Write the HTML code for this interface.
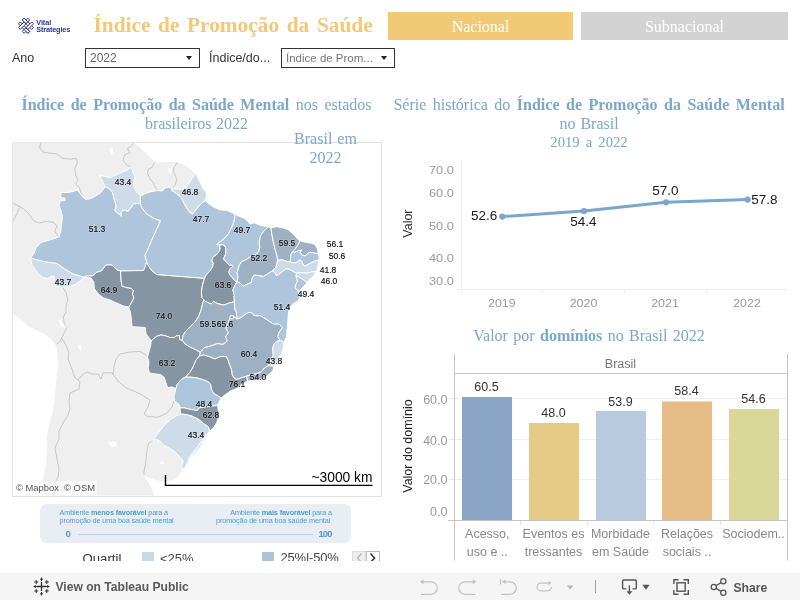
<!DOCTYPE html>
<html><head><meta charset="utf-8">
<style>
html,body{margin:0;padding:0;background:#fff;}
body{width:800px;height:600px;position:relative;overflow:hidden;font-family:"Liberation Sans",sans-serif;}
.abs{position:absolute;white-space:nowrap;}
.serif{font-family:"Liberation Serif",serif;}
.mh{font:8.5px "Liberation Sans",sans-serif;fill:none;text-anchor:middle;stroke:rgba(255,255,255,.22);stroke-width:1.6px;stroke-linejoin:round;}
.ml{font:8.5px "Liberation Sans",sans-serif;fill:#111;text-anchor:middle;stroke:#111;stroke-width:.17px;}
.t16{font-family:"Liberation Serif",serif;font-size:16px;color:#7BA7CC;line-height:18.5px;text-align:center;word-spacing:2.5px;}
.dd{position:absolute;box-sizing:border-box;border:1px solid #333;background:#fff;height:20px;top:48px;font-size:12px;color:#666;line-height:18px;padding-left:4px;}
.dd i{position:absolute;right:7px;top:7px;width:0;height:0;border-left:3.5px solid transparent;border-right:3.5px solid transparent;border-top:4.5px solid #222;}
.ax{font-size:12px;color:#8a8a8a;}
.dl{font-size:12.5px;color:#222;}
#wrap{position:absolute;left:0;top:0;width:800px;height:600px;will-change:transform;}
</style></head><body><div id="wrap">

<!-- logo -->
<svg class="abs" style="left:0;top:0" width="100" height="45" viewBox="0 0 100 45">
 <g transform="translate(26,25.7) rotate(45) scale(0.88)" stroke="#2B3593" stroke-width="1.05" fill="#fff">
  <rect x="-7.6" y="-4.6" width="15.2" height="3"/>
  <rect x="-7.6" y="1.6" width="15.2" height="3"/>
  <rect x="-4.6" y="-7.6" width="3" height="15.2"/>
  <rect x="1.6" y="-7.6" width="3" height="15.2"/>
  <rect x="-7.6" y="-4.6" width="6" height="3"/>
  <rect x="1.6" y="1.6" width="6" height="3"/>
  <path d="M-4.6 -1.6 H-1.6 M1.6 1.6 H4.6" stroke="#2B3593"/>
 </g>
 <text x="36.3" y="25.3" style="font:bold 7.3px 'Liberation Sans',sans-serif;fill:#2B3593;letter-spacing:-0.1px">Vital</text>
 <text x="36.3" y="32.2" style="font:bold 7.3px 'Liberation Sans',sans-serif;fill:#2B3593;letter-spacing:-0.15px">Strategies</text>
</svg>

<!-- title -->
<div class="abs serif" style="left:93.5px;top:13px;font-size:21.33px;font-weight:bold;color:#F3C878;line-height:25px;word-spacing:2.35px;">Índice de Promoção da Saúde</div>

<!-- buttons -->
<div class="abs serif" style="left:388px;top:12px;width:185px;height:28px;background:#F2C976;color:#fff;font-size:16px;line-height:29px;text-align:center;">Nacional</div>
<div class="abs serif" style="left:581px;top:12px;width:207px;height:28px;background:#D3D3D3;color:#fff;font-size:16px;line-height:29px;text-align:center;">Subnacional</div>

<!-- filters -->
<div class="abs" style="left:12px;top:50px;font-size:12.5px;color:#333;line-height:16px;">Ano</div>
<div class="dd" style="left:85px;width:115px;">2022<i></i></div>
<div class="abs" style="left:209px;top:50px;font-size:12.5px;color:#333;line-height:16px;">Índice/do...</div>
<div class="dd" style="left:281px;width:114px;color:#777;font-size:11.5px;">Índice de Prom...<i></i></div>

<!-- left title -->
<div class="abs t16" style="left:12px;top:96px;width:369px;"><b>Índice de Promoção da Saúde Mental</b> nos estados</div>
<div class="abs t16" style="left:12px;top:114.8px;width:369px;word-spacing:0.5px;">brasileiros 2022</div>

<!-- map frame -->
<div class="abs" style="left:12px;top:142px;width:368px;height:353px;border:1px solid #E1E1E1;"></div>
<svg id="map" width="800" height="600" viewBox="0 0 800 600" style="position:absolute;left:0;top:0">
<defs><clipPath id="mc"><rect x="12.5" y="142.5" width="368" height="353"/></clipPath></defs>
<g clip-path="url(#mc)">
<polygon points="12.0,142.0 133.8,142.0 133.8,143.0 138.8,146.2 143.8,151.2 148.8,156.2 153.1,160.6 158.8,162.2 166.2,161.9 175.0,161.9 181.2,163.8 187.5,166.9 192.5,171.2 196.2,173.8 198.0,185.0 200.0,200.0 230.0,220.0 260.0,240.0 280.0,280.0 270.0,340.0 220.0,390.0 200.0,430.0 185.0,465.0 182.5,470.0 180.8,473.5 177.2,477.0 172.0,480.5 165.0,481.4 156.2,480.5 149.2,477.9 144.0,475.0 148.0,482.0 152.0,489.0 154.0,496.0 43.0,496.0 43.0,480.0 46.0,465.0 47.0,451.0 47.0,437.0 49.0,425.0 53.0,411.0 55.0,395.0 56.0,381.0 58.0,365.0 57.0,349.0 55.5,345.0 52.0,339.8 45.0,334.5 36.2,330.1 27.5,325.8 20.5,319.6 13.5,314.4 12.0,313.5" fill="#EFEFEF"/>
<polygon points="110.0,148.0 113.0,148.5 113.2,152.0 111.5,155.0 109.8,153.0" fill="#fff"/>
<polygon points="168.2,168.2 171.8,168.2 171.8,172.4 168.2,172.4" fill="#fff"/>
<polygon points="58.5,320.0 61.0,319.6 62.5,323.0 66.0,325.0 67.5,328.0 64.0,327.5 60.0,325.5" fill="#fff"/>
<polygon points="108.0,442.5 116.0,441.5 117.0,446.0 112.0,447.5" fill="#fff"/>
<polygon points="78.0,345.0 80.5,345.0 82.0,350.0 79.5,349.5" fill="#fff"/>
<polygon points="160.0,462.0 163.0,461.5 164.0,463.5 161.0,464.5" fill="#fff"/>
<polyline points="40.6,142.6 39.8,147.9 43.2,152.2 50.2,153.1 57.2,154.0 62.5,158.4 69.5,159.2 76.5,158.4 77.4,162.8 74.8,168.0 75.6,175.0 78.2,180.2 75.6,183.8 79.1,187.2 80.9,192.5 82.5,197.0" fill="none" stroke="#B8B8B8" stroke-width="0.75"/>
<polyline points="133.8,143.0 131.2,146.2 127.5,148.8 130.0,152.5 124.6,154.9 122.9,160.1 126.4,164.5 131.0,167.0" fill="none" stroke="#B8B8B8" stroke-width="0.75"/>
<polyline points="153.8,163.1 152.5,166.9 148.1,169.4 147.5,173.8 150.0,178.8 153.1,182.5 155.6,187.5 157.5,190.6" fill="none" stroke="#B8B8B8" stroke-width="0.75"/>
<polyline points="177.5,162.2 174.4,166.9 173.1,171.2 175.6,176.2 176.9,180.0 175.0,185.0 173.1,188.1" fill="none" stroke="#B8B8B8" stroke-width="0.75"/>
<polyline points="12.6,203.0 17.9,205.6 24.0,209.1 29.2,214.4 33.6,220.5 38.9,223.1 45.9,221.4 52.9,222.2 57.2,225.8 54.6,231.0 58.1,236.2" fill="none" stroke="#B8B8B8" stroke-width="0.75"/>
<polyline points="12.6,221.4 17.0,213.5 19.6,207.4 17.9,205.6" fill="none" stroke="#B8B8B8" stroke-width="0.75"/>
<polyline points="62.5,287.2 66.0,292.5 67.8,299.5 66.0,306.5 66.0,311.8 63.4,317.0 64.2,324.0 66.9,327.5 64.2,332.8 61.6,338.0 59.9,341.5 56.4,344.1" fill="none" stroke="#B8B8B8" stroke-width="0.75"/>
<polyline points="61.6,338.0 63.5,341.0 66.0,345.0 69.0,353.0 68.0,359.0 72.0,369.0 75.0,378.0 78.0,380.0 80.0,382.0 79.0,389.0 70.0,393.0 69.0,401.0 70.0,409.0 68.0,415.0 63.0,423.0 59.0,431.0 59.0,439.0 55.0,448.0 57.0,459.0 59.0,469.0 58.0,477.0 56.0,481.0 54.0,496.0" fill="none" stroke="#B8B8B8" stroke-width="0.75"/>
<polyline points="78.0,380.0 82.0,375.0 87.0,372.0 92.0,374.0 98.0,374.0 101.0,379.0 103.0,373.0 111.0,372.6 113.0,374.0" fill="none" stroke="#B8B8B8" stroke-width="0.75"/>
<polyline points="113.0,374.0 114.0,367.0 116.0,359.0 120.0,354.0 130.0,352.0 140.0,351.4 146.0,355.0 148.5,357.5" fill="none" stroke="#B8B8B8" stroke-width="0.75"/>
<polyline points="113.0,374.0 118.0,381.0 126.0,388.0 134.0,391.0 142.0,395.0 150.0,400.0 148.0,407.0 144.0,414.0 147.5,416.6 158.0,417.2 166.8,413.0 172.0,407.0 174.0,401.0" fill="none" stroke="#B8B8B8" stroke-width="0.75"/>
<polyline points="152.8,440.2 148.4,443.8 146.6,452.5 145.8,463.0 144.0,471.8 144.0,475.0" fill="none" stroke="#B8B8B8" stroke-width="0.75"/>
<polygon points="30.5,258.3 33.8,253.5 36.2,247.5 41.0,242.5 50.2,239.8 59.0,237.0 60.8,231.0 61.6,224.0 62.5,217.0 60.8,210.0 59.0,205.6 59.9,201.2 65.1,200.4 65.1,198.1 60.8,197.8 60.8,192.5 67.8,192.5 73.0,191.6 77.4,189.9 80.0,193.4 82.6,196.9 86.1,199.5 90.5,198.6 95.8,196.0 101.0,192.5 105.2,186.7 105.2,186.7 109.5,188.8 112.5,192.5 114.0,198.5 116.2,206.0 114.8,210.5 121.5,216.2 120.8,212.8 123.0,209.8 128.2,211.2 130.5,208.2 133.5,203.8 140.3,203.3 140.3,203.3 141.8,207.5 146.2,213.5 153.0,218.0 160.5,220.7 145.0,255.5 146.7,261.6 146.7,261.6 145.0,267.5 143.5,270.5 120.6,271.0 120.6,271.0 117.0,270.0 112.0,265.0 106.0,265.0 101.7,270.7 96.5,272.5 92.5,276.0 87.0,276.0 84.0,277.3 84.0,277.3 73.0,274.0 64.2,268.9 57.2,263.6 45.0,261.9 30.5,258.3" fill="#AFC5DB" stroke="#fff" stroke-width="1" stroke-linejoin="round"/>
<polygon points="105.2,186.7 102.8,182.0 99.8,175.2 110.2,177.8 120.0,173.0 127.5,170.0 131.0,167.0 132.5,170.0 133.0,173.0 135.0,176.5 133.6,181.0 133.5,186.0 135.3,190.5 140.4,196.0 140.4,196.0 140.3,203.3 140.3,203.3 133.5,203.8 130.5,208.2 128.2,211.2 123.0,209.8 120.8,212.8 121.5,216.2 114.8,210.5 116.2,206.0 114.0,198.5 112.5,192.5 109.5,188.8 105.2,186.7" fill="#CEDBE8" stroke="#fff" stroke-width="1" stroke-linejoin="round"/>
<polygon points="30.5,258.3 45.0,261.9 57.2,263.6 64.2,268.9 73.0,274.0 84.0,277.3 84.0,277.3 80.0,281.1 74.8,284.6 69.5,286.4 62.5,287.2 55.5,286.4 53.8,282.0 54.6,276.8 52.0,275.9 47.6,278.5 43.2,277.6 38.0,274.1 35.4,269.8 31.9,264.5 30.5,258.3" fill="#CEDBE8" stroke="#fff" stroke-width="1" stroke-linejoin="round"/>
<polygon points="84.0,277.3 87.0,276.0 92.5,276.0 96.5,272.5 101.7,270.7 106.0,265.0 112.0,265.0 117.0,270.0 120.6,271.0 120.6,271.0 121.0,280.0 122.0,286.2 127.0,287.6 131.5,288.3 133.4,290.8 132.5,294.2 134.0,297.5 131.5,302.8 128.8,307.0 128.8,307.0 123.5,306.0 116.5,303.0 110.0,300.0 103.0,297.8 98.0,293.8 94.3,288.5 93.8,282.0 91.0,278.0 84.0,277.3" fill="#8695A4" stroke="#fff" stroke-width="1" stroke-linejoin="round"/>
<polygon points="120.6,271.0 143.5,270.5 145.0,267.5 146.7,261.6 146.7,261.6 148.8,266.6 151.4,270.1 156.6,274.5 204.5,278.3 204.5,278.3 202.5,285.0 201.4,292.0 202.0,298.0 204.0,299.8 204.0,299.8 203.0,302.5 201.2,309.5 198.6,316.5 195.1,321.8 189.9,327.0 185.5,331.4 182.9,335.8 182.3,340.5 182.3,340.5 179.5,339.5 179.4,335.5 176.8,335.8 174.1,337.5 169.8,337.5 165.4,335.8 161.0,334.9 156.6,336.3 153.1,339.2 151.2,340.8 151.2,340.8 148.8,337.5 146.1,334.0 145.2,327.5 132.0,326.7 131.4,320.0 130.6,313.0 128.8,307.0 128.8,307.0 131.5,302.8 134.0,297.5 132.5,294.2 133.4,290.8 131.5,288.3 127.0,287.6 122.0,286.2 121.0,280.0 120.6,271.0" fill="#8695A4" stroke="#fff" stroke-width="1" stroke-linejoin="round"/>
<polygon points="140.4,196.0 145.0,193.8 150.0,191.9 157.5,190.6 162.5,191.0 165.0,188.0 168.8,187.2 171.2,188.1 171.9,190.5 171.9,190.5 175.0,192.5 178.8,195.0 181.9,198.8 184.4,203.8 187.5,209.4 190.0,212.5 192.5,213.9 195.0,210.6 198.8,206.2 202.5,202.5 205.0,200.6 205.0,200.6 208.8,203.8 214.0,207.3 220.0,209.8 227.5,210.5 232.0,212.8 235.3,214.2 235.3,214.2 234.2,221.0 232.0,227.0 230.2,230.0 228.4,233.8 225.0,237.9 221.2,240.9 216.4,244.6 220.5,244.8 220.5,244.8 219.8,246.1 220.1,248.8 219.0,251.8 216.8,254.4 213.0,257.0 211.9,260.8 213.4,263.0 212.6,266.8 210.0,270.9 206.2,275.0 204.5,278.3 204.5,278.3 156.6,274.5 151.4,270.1 148.8,266.6 146.7,261.6 146.7,261.6 145.0,255.5 160.5,220.7 153.0,218.0 146.2,213.5 141.8,207.5 140.3,203.3 140.3,203.3 140.4,196.0" fill="#AFC5DB" stroke="#fff" stroke-width="1" stroke-linejoin="round"/>
<polygon points="171.9,190.5 171.9,189.0 173.1,188.8 180.0,189.4 186.2,188.1 188.8,183.8 191.9,178.8 195.0,174.4 196.2,173.8 196.2,173.8 198.8,180.0 202.5,187.5 206.9,193.8 206.2,197.5 205.0,200.6 205.0,200.6 202.5,202.5 198.8,206.2 195.0,210.6 192.5,213.9 190.0,212.5 187.5,209.4 184.4,203.8 181.9,198.8 178.8,195.0 175.0,192.5 171.9,190.5" fill="#CEDBE8" stroke="#fff" stroke-width="1" stroke-linejoin="round"/>
<polygon points="220.5,244.8 222.8,244.6 225.0,246.1 226.1,250.2 225.4,254.8 223.5,258.9 226.5,262.2 229.5,265.2 232.1,264.9 232.5,266.8 230.2,268.6 228.8,272.0 229.9,275.0 232.8,278.0 235.0,281.0 237.0,281.6 237.0,281.6 234.9,285.5 232.8,290.0 234.2,294.5 234.2,300.0 234.5,301.8 234.5,301.8 233.0,302.1 228.5,303.2 224.0,305.1 221.0,304.4 217.2,303.6 213.5,301.4 211.2,304.0 205.2,301.4 204.0,299.8 204.0,299.8 202.0,298.0 201.4,292.0 202.5,285.0 204.5,278.3 204.5,278.3 206.2,275.0 210.0,270.9 212.6,266.8 213.4,263.0 211.9,260.8 213.0,257.0 216.8,254.4 219.0,251.8 220.1,248.8 219.8,246.1 220.5,244.8" fill="#8695A4" stroke="#fff" stroke-width="1" stroke-linejoin="round"/>
<polygon points="235.3,214.2 239.5,216.5 244.0,218.0 247.8,221.8 250.0,224.0 254.5,222.8 259.0,224.8 265.0,226.2 268.0,227.0 268.0,227.0 263.5,231.5 260.5,236.0 259.3,242.0 259.8,248.0 258.2,252.5 255.0,254.8 250.5,256.6 246.0,259.6 241.5,261.9 239.2,265.2 238.1,269.8 237.0,272.8 238.0,276.5 237.0,281.6 237.0,281.6 235.0,281.0 232.8,278.0 229.9,275.0 228.8,272.0 230.2,268.6 232.5,266.8 232.1,264.9 229.5,265.2 226.5,262.2 223.5,258.9 225.4,254.8 226.1,250.2 225.0,246.1 222.8,244.6 220.5,244.8 220.5,244.8 216.4,244.6 221.2,240.9 225.0,237.9 228.4,233.8 230.2,230.0 232.0,227.0 234.2,221.0 235.3,214.2" fill="#AFC5DB" stroke="#fff" stroke-width="1" stroke-linejoin="round"/>
<polygon points="268.0,227.0 271.0,227.6 271.0,227.6 271.8,234.0 273.2,241.5 275.0,249.0 277.0,255.5 277.5,260.2 277.5,260.2 277.0,263.5 276.0,267.0 272.5,271.0 272.5,271.0 268.0,273.5 263.5,276.5 259.0,275.8 254.5,275.0 252.2,278.0 251.5,282.5 247.8,284.0 243.2,286.2 240.2,283.2 237.0,281.6 237.0,281.6 238.0,276.5 237.0,272.8 238.1,269.8 239.2,265.2 241.5,261.9 246.0,259.6 250.5,256.6 255.0,254.8 258.2,252.5 259.8,248.0 259.3,242.0 260.5,236.0 263.5,231.5 268.0,227.0" fill="#9EB1C4" stroke="#fff" stroke-width="1" stroke-linejoin="round"/>
<polygon points="271.0,227.6 277.0,226.7 283.0,227.8 288.0,229.5 293.5,234.2 298.0,239.5 300.0,240.8 300.0,240.8 298.0,244.8 295.0,249.2 292.0,252.2 292.0,252.2 290.8,255.2 290.5,259.0 290.2,262.0 290.2,262.0 286.0,261.2 282.2,259.8 277.5,260.2 277.5,260.2 277.0,255.5 275.0,249.0 273.2,241.5 271.8,234.0 271.0,227.6" fill="#9EB1C4" stroke="#fff" stroke-width="1" stroke-linejoin="round"/>
<polygon points="300.0,240.8 305.5,242.3 311.5,243.2 315.2,244.8 317.5,249.2 318.2,253.8 318.2,253.8 314.5,253.0 310.0,252.2 307.0,253.8 305.5,256.0 301.8,255.2 300.2,252.2 301.8,250.0 298.0,250.8 295.0,252.2 292.0,252.2 292.0,252.2 295.0,249.2 298.0,244.8 300.0,240.8" fill="#9EB1C4" stroke="#fff" stroke-width="1" stroke-linejoin="round"/>
<polygon points="292.0,252.2 295.0,252.2 298.0,250.8 301.8,250.0 300.2,252.2 301.8,255.2 305.5,256.0 307.0,253.8 310.0,252.2 314.5,253.0 318.2,253.8 318.2,253.8 319.3,257.5 318.7,260.2 318.7,260.2 314.5,261.2 310.0,263.5 305.5,265.8 303.2,265.0 301.8,261.2 299.5,259.8 296.5,262.8 293.5,262.8 290.2,262.0 290.2,262.0 290.5,259.0 290.8,255.2 292.0,252.2" fill="#AFC5DB" stroke="#fff" stroke-width="1" stroke-linejoin="round"/>
<polygon points="277.5,260.2 282.2,259.8 286.0,261.2 290.2,262.0 290.2,262.0 293.5,262.8 296.5,262.8 299.5,259.8 301.8,261.2 303.2,265.0 305.5,265.8 310.0,263.5 314.5,261.2 318.7,260.2 318.7,260.2 318.2,265.0 316.8,270.2 316.0,271.8 316.0,271.8 312.2,271.8 307.0,273.2 301.0,272.5 296.5,273.2 296.5,273.2 293.5,271.8 289.8,269.5 286.0,268.8 282.2,271.8 278.5,274.8 276.2,275.5 274.8,272.5 272.5,271.0 272.5,271.0 276.0,267.0 277.0,263.5 277.5,260.2" fill="#CEDBE8" stroke="#fff" stroke-width="1" stroke-linejoin="round"/>
<polygon points="296.5,273.2 301.0,272.5 307.0,273.2 312.2,271.8 316.0,271.8 316.0,271.8 313.0,276.2 309.2,280.0 307.0,282.7 307.0,282.7 302.5,279.2 298.0,276.7 295.8,276.2 295.8,276.2 296.5,273.2" fill="#CEDBE8" stroke="#fff" stroke-width="1" stroke-linejoin="round"/>
<polygon points="295.8,276.2 298.0,276.7 302.5,279.2 307.0,282.7 307.0,282.7 304.0,286.0 300.2,289.8 298.0,291.2 298.0,291.2 295.0,287.5 295.8,284.5 297.2,281.5 296.8,278.5 295.8,276.2" fill="#AFC5DB" stroke="#fff" stroke-width="1" stroke-linejoin="round"/>
<polygon points="237.0,281.6 240.2,283.2 243.2,286.2 247.8,284.0 251.5,282.5 252.2,278.0 254.5,275.0 259.0,275.8 263.5,276.5 268.0,273.5 272.5,271.0 272.5,271.0 274.8,272.5 276.2,275.5 278.5,274.8 282.2,271.8 286.0,268.8 289.8,269.5 293.5,271.8 296.5,273.2 296.5,273.2 295.8,276.2 295.8,276.2 296.8,278.5 297.2,281.5 295.8,284.5 295.0,287.5 298.0,291.2 298.0,291.2 300.2,296.5 298.0,301.0 293.5,303.5 290.5,307.0 289.0,310.0 288.2,315.5 288.0,319.2 287.2,329.0 286.4,337.1 284.0,342.0 284.0,342.0 279.9,340.4 279.9,340.4 277.5,336.3 279.1,332.2 282.4,327.4 279.1,324.1 273.4,324.1 266.1,319.2 260.0,315.5 257.0,316.0 253.6,315.2 251.8,312.6 248.0,312.6 244.2,315.2 240.5,317.9 236.8,319.0 236.8,319.0 236.8,316.8 236.4,312.6 234.9,310.0 234.5,306.2 234.5,301.8 234.5,301.8 234.2,300.0 234.2,294.5 232.8,290.0 234.9,285.5 237.0,281.6" fill="#AFC5DB" stroke="#fff" stroke-width="1" stroke-linejoin="round"/>
<polygon points="204.0,299.8 205.2,301.4 211.2,304.0 213.5,301.4 217.2,303.6 221.0,304.4 224.0,305.1 228.5,303.2 233.0,302.1 234.5,301.8 234.5,301.8 234.5,306.2 234.9,310.0 236.4,312.6 236.8,316.8 236.8,319.0 236.8,319.0 233.8,316.8 233.0,315.6 231.5,317.5 229.6,318.6 229.2,320.5 228.5,322.8 226.2,326.5 226.2,329.5 228.5,331.8 227.8,334.0 225.5,336.2 227.0,340.0 227.1,341.2 223.0,344.4 217.4,343.6 210.9,346.0 204.4,347.7 200.2,352.4 200.2,352.4 196.4,350.1 190.2,347.2 185.0,344.0 182.3,340.5 182.3,340.5 182.9,335.8 185.5,331.4 189.9,327.0 195.1,321.8 198.6,316.5 201.2,309.5 203.0,302.5 204.0,299.8" fill="#9EB1C4" stroke="#fff" stroke-width="1" stroke-linejoin="round"/>
<polygon points="236.8,319.0 240.5,317.9 244.2,315.2 248.0,312.6 251.8,312.6 253.6,315.2 257.0,316.0 260.0,315.5 266.1,319.2 273.4,324.1 279.1,324.1 282.4,327.4 279.1,332.2 277.5,336.3 279.9,340.4 279.9,340.4 277.5,341.2 274.2,343.6 272.6,348.5 273.4,355.0 270.2,361.5 268.6,365.6 268.6,365.6 264.5,368.0 261.2,372.0 256.4,373.7 249.9,375.3 246.4,376.2 246.4,376.2 240.2,378.3 236.9,379.4 234.4,378.6 232.0,374.5 231.5,369.6 229.6,364.8 227.9,359.9 226.3,356.6 220.6,356.6 214.9,359.0 209.2,356.6 203.6,355.0 199.3,356.0 199.3,356.0 200.2,352.4 200.2,352.4 204.4,347.7 210.9,346.0 217.4,343.6 223.0,344.4 227.1,341.2 227.0,340.0 225.5,336.2 227.8,334.0 228.5,331.8 226.2,329.5 226.2,326.5 228.5,322.8 229.2,320.5 229.6,318.6 231.5,317.5 233.0,315.6 233.8,316.8 236.8,319.0" fill="#9EB1C4" stroke="#fff" stroke-width="1" stroke-linejoin="round"/>
<polygon points="279.9,340.4 284.0,342.0 284.0,342.0 283.2,348.5 281.6,353.4 277.5,359.9 274.2,366.4 274.2,366.4 268.6,365.6 268.6,365.6 270.2,361.5 273.4,355.0 272.6,348.5 274.2,343.6 277.5,341.2 279.9,340.4" fill="#CEDBE8" stroke="#fff" stroke-width="1" stroke-linejoin="round"/>
<polygon points="268.6,365.6 274.2,366.4 274.2,366.4 272.6,371.2 268.6,374.5 264.5,378.6 258.0,380.2 252.5,380.6 247.5,381.0 247.5,381.0 246.4,376.2 246.4,376.2 249.9,375.3 256.4,373.7 261.2,372.0 264.5,368.0 268.6,365.6" fill="#9EB1C4" stroke="#fff" stroke-width="1" stroke-linejoin="round"/>
<polygon points="199.3,356.0 203.6,355.0 209.2,356.6 214.9,359.0 220.6,356.6 226.3,356.6 227.9,359.9 229.6,364.8 231.5,369.6 232.0,374.5 234.4,378.6 236.9,379.4 240.2,378.3 246.4,376.2 246.4,376.2 247.5,381.0 247.5,381.0 242.0,384.2 236.8,388.6 231.5,390.4 226.2,393.9 221.0,398.2 221.0,398.2 217.5,395.6 214.0,393.9 211.4,389.5 210.5,384.2 207.9,381.6 203.5,379.9 197.4,378.1 191.2,377.2 185.1,377.2 185.1,377.2 189.5,372.9 193.0,366.8 195.6,360.6 199.3,356.0" fill="#8695A4" stroke="#fff" stroke-width="1" stroke-linejoin="round"/>
<polygon points="151.2,340.8 153.1,339.2 156.6,336.3 161.0,334.9 165.4,335.8 169.8,337.5 174.1,337.5 176.8,335.8 179.4,335.5 179.5,339.5 182.3,340.5 182.3,340.5 185.0,344.0 190.2,347.2 196.4,350.1 200.2,352.4 200.2,352.4 199.3,356.0 199.3,356.0 195.6,360.6 193.0,366.8 189.5,372.9 185.1,377.2 185.1,377.2 180.8,379.9 177.2,384.2 175.9,388.6 175.9,388.6 172.0,386.9 167.6,387.8 165.9,382.5 164.1,377.2 160.6,374.6 154.5,373.8 149.2,372.9 148.4,367.6 148.9,361.5 147.5,357.1 149.2,351.0 150.7,344.9 151.2,340.8" fill="#8695A4" stroke="#fff" stroke-width="1" stroke-linejoin="round"/>
<polygon points="185.1,377.2 191.2,377.2 197.4,378.1 203.5,379.9 207.9,381.6 210.5,384.2 211.4,389.5 214.0,393.9 217.5,395.6 221.0,398.2 221.0,398.2 219.2,401.8 217.5,405.2 217.5,405.2 212.2,406.1 205.2,407.0 199.1,407.9 197.4,410.5 191.2,409.6 184.2,407.9 179.9,407.9 179.9,407.9 179.0,404.4 174.6,400.9 173.8,396.5 175.1,392.1 175.9,388.6 175.9,388.6 177.2,384.2 180.8,379.9 185.1,377.2" fill="#AFC5DB" stroke="#fff" stroke-width="1" stroke-linejoin="round"/>
<polygon points="179.9,407.9 184.2,407.9 191.2,409.6 197.4,410.5 199.1,407.9 205.2,407.0 212.2,406.1 217.5,405.2 217.5,405.2 218.4,410.5 218.4,417.5 216.6,422.8 214.0,427.1 209.6,431.5 209.6,431.5 208.5,427.0 203.5,423.6 198.2,419.2 192.1,416.2 186.0,414.6 180.8,414.0 180.8,414.0 179.9,407.9" fill="#8695A4" stroke="#fff" stroke-width="1" stroke-linejoin="round"/>
<polygon points="180.8,414.0 186.0,414.6 192.1,416.2 198.2,419.2 203.5,423.6 208.5,427.0 209.6,431.5 209.6,431.5 207.0,435.0 203.5,441.1 200.0,447.2 195.6,452.5 191.2,456.9 187.8,462.1 185.1,467.4 182.5,470.0 182.5,470.0 181.6,465.6 183.4,461.2 179.9,456.9 174.6,451.6 169.4,448.1 164.1,445.5 159.8,441.1 156.2,439.4 152.8,440.2 152.8,440.2 156.2,435.9 160.6,429.8 165.0,424.5 171.1,419.2 176.4,415.8 180.8,414.0" fill="#CEDBE8" stroke="#fff" stroke-width="1" stroke-linejoin="round"/>
<polygon points="230.0,315.8 233.5,315.8 233.5,318.8 230.0,318.8" fill="#8695A4" stroke="#fff" stroke-width="1" stroke-linejoin="round"/>
<polyline points="206,434 203,439 199,445 195,450.5 191,455 188,459.5" fill="none" stroke="#fff" stroke-width="1.2"/>
</g>
<text x="123" y="185.2" class="mh">43.4</text><text x="123" y="185.2" class="ml">43.4</text>
<text x="190" y="195.2" class="mh">46.8</text><text x="190" y="195.2" class="ml">46.8</text>
<text x="97" y="232.2" class="mh">51.3</text><text x="97" y="232.2" class="ml">51.3</text>
<text x="201" y="222.2" class="mh">47.7</text><text x="201" y="222.2" class="ml">47.7</text>
<text x="242" y="233.2" class="mh">49.7</text><text x="242" y="233.2" class="ml">49.7</text>
<text x="287" y="246.2" class="mh">59.5</text><text x="287" y="246.2" class="ml">59.5</text>
<text x="335" y="247.2" class="mh">56.1</text><text x="335" y="247.2" class="ml">56.1</text>
<text x="337" y="259.2" class="mh">50.6</text><text x="337" y="259.2" class="ml">50.6</text>
<text x="259" y="261.2" class="mh">52.2</text><text x="259" y="261.2" class="ml">52.2</text>
<text x="328" y="273.2" class="mh">41.8</text><text x="328" y="273.2" class="ml">41.8</text>
<text x="329" y="284.2" class="mh">46.0</text><text x="329" y="284.2" class="ml">46.0</text>
<text x="223" y="288.2" class="mh">63.6</text><text x="223" y="288.2" class="ml">63.6</text>
<text x="306" y="297.2" class="mh">49.4</text><text x="306" y="297.2" class="ml">49.4</text>
<text x="282" y="310.2" class="mh">51.4</text><text x="282" y="310.2" class="ml">51.4</text>
<text x="63" y="285.2" class="mh">43.7</text><text x="63" y="285.2" class="ml">43.7</text>
<text x="109" y="293.2" class="mh">64.9</text><text x="109" y="293.2" class="ml">64.9</text>
<text x="164" y="319.2" class="mh">74.0</text><text x="164" y="319.2" class="ml">74.0</text>
<text x="208" y="327.2" class="mh">59.5</text><text x="208" y="327.2" class="ml">59.5</text>
<text x="225" y="327.2" class="mh">65.6</text><text x="225" y="327.2" class="ml">65.6</text>
<text x="249" y="357.2" class="mh">60.4</text><text x="249" y="357.2" class="ml">60.4</text>
<text x="167" y="366.2" class="mh">63.2</text><text x="167" y="366.2" class="ml">63.2</text>
<text x="274" y="364.2" class="mh">43.8</text><text x="274" y="364.2" class="ml">43.8</text>
<text x="258" y="380.2" class="mh">54.0</text><text x="258" y="380.2" class="ml">54.0</text>
<text x="237" y="387.2" class="mh">76.1</text><text x="237" y="387.2" class="ml">76.1</text>
<text x="204" y="407.2" class="mh">48.4</text><text x="204" y="407.2" class="ml">48.4</text>
<text x="211" y="418.2" class="mh">62.8</text><text x="211" y="418.2" class="ml">62.8</text>
<text x="196" y="438.2" class="mh">43.4</text><text x="196" y="438.2" class="ml">43.4</text>
<path d="M165.5 475 V485.4 H372.5" fill="none" stroke="#000" stroke-width="1.4"/>
<text x="372.5" y="482" text-anchor="end" style="font:13.8px 'Liberation Sans',sans-serif;fill:#000">~3000 km</text>
</svg>
<div class="abs t16" style="left:280px;top:129.6px;width:91px;word-spacing:1px;">Brasil em</div>
<div class="abs t16" style="left:280px;top:149.2px;width:91px;">2022</div>
<div class="abs" style="left:14px;top:481px;width:83px;height:14px;background:rgba(255,255,255,.55);font-size:9.4px;color:#555;line-height:14px;padding-left:2px;box-sizing:border-box;">© Mapbox&nbsp; © OSM</div>

<!-- legend banner -->
<div class="abs" style="left:40px;top:504px;width:311px;height:38.5px;background:#E9EEF4;border-radius:7px;"></div>
<div class="abs" style="left:59.5px;top:509px;font-size:7.3px;line-height:7.6px;color:#4C9CC8;letter-spacing:-0.15px;">Ambiente <b>menos favorável</b> para a<br>promoção de uma boa saúde mental</div>
<div class="abs" style="left:213px;top:509px;width:119px;text-align:right;font-size:7.3px;line-height:7.6px;color:#4C9CC8;letter-spacing:-0.15px;">Ambiente <b>mais favorável</b> para a<br>promoção de uma boa saúde mental&nbsp;</div>
<div class="abs" style="left:59px;top:525px;width:118px;height:1px;background:#F2E7D2;"></div>
<div class="abs" style="left:213px;top:525px;width:117px;height:1px;background:#F2E7D2;"></div>
<div class="abs" style="left:67px;top:525px;width:1px;height:5px;background:#F2E7D2;"></div>
<div class="abs" style="left:324px;top:525px;width:1px;height:5px;background:#F2E7D2;"></div>
<div class="abs" style="left:78px;top:534px;width:235px;height:1px;background:#BCCFDF;"></div>
<div class="abs" style="left:65.5px;top:529.3px;font-size:9.6px;font-weight:bold;color:#4C9CC8;line-height:10px;">0</div>
<div class="abs" style="left:318.5px;top:529.3px;font-size:9.4px;font-weight:bold;color:#4C9CC8;line-height:10px;letter-spacing:-0.9px;">100</div>

<!-- quartil legend (clipped) -->
<div class="abs" style="left:0;top:548px;width:400px;height:12.5px;overflow:hidden;">
 <div class="abs" style="left:82.5px;top:2.8px;font-size:13.2px;color:#333;line-height:16px;">Quartil</div>
 <div class="abs" style="left:142px;top:4px;width:12px;height:12px;background:#C9D8E6;"></div>
 <div class="abs" style="left:160px;top:2.6px;font-size:13px;color:#444;line-height:16px;">&lt;25%</div>
 <div class="abs" style="left:262px;top:4px;width:12px;height:12px;background:#A9C4DC;"></div>
 <div class="abs" style="left:280.5px;top:2.2px;font-size:13px;color:#444;line-height:16px;letter-spacing:-0.2px;">25%|-50%</div>
 <div class="abs" style="left:352px;top:2.5px;width:14px;height:12px;background:#EDEDED;border:1px solid #DDD;box-sizing:border-box;"></div>
 <div class="abs" style="left:366px;top:2.5px;width:14px;height:12px;background:#fff;border:1px solid #BBB;box-sizing:border-box;"></div>
 <svg class="abs" style="left:352px;top:2.5px" width="28" height="12"><path d="M9.5 2.5 L5.5 7 L9.5 11.5" stroke="#BBB" stroke-width="1.4" fill="none"/><path d="M18.5 2.5 L22.5 7 L18.5 11.5" stroke="#333" stroke-width="1.6" fill="none"/></svg>
</div>

<!-- right title -->
<div class="abs t16" style="left:389px;top:96px;width:400px;">Série histórica do <b>Índice de Promoção da Saúde Mental</b></div>
<div class="abs t16" style="left:389px;top:114.8px;width:400px;word-spacing:1px;">no Brasil</div>
<div class="abs t16" style="left:389px;top:132.8px;width:400px;font-size:14.67px;word-spacing:2.4px;">2019 a 2022</div>

<!-- line chart -->
<svg class="abs" style="left:0;top:0" width="800" height="600" viewBox="0 0 800 600">
 <g stroke="#EEEEEE" stroke-width="1" fill="none">
  <path d="M461.5 160 V290 M456 289.5 H788"/>
  <path d="M461.5 290 V294 M542.5 290 V294 M624.5 290 V294 M706.5 290 V294"/>
 </g>
 <polyline points="502.3,216.6 584,211 666,202.3 747.7,199.6" fill="none" stroke="#7BA7CC" stroke-width="3" stroke-linejoin="round" stroke-linecap="round"/>
 <g fill="#7BA7CC"><circle cx="502.3" cy="216.6" r="3.1"/><circle cx="584" cy="211" r="3.1"/><circle cx="666" cy="202.3" r="3.1"/><circle cx="747.7" cy="199.6" r="3.1"/></g>
 <g style="font:11.4px 'Liberation Sans',sans-serif;fill:#999" text-anchor="end">
  <text x="453.8" y="173.7" textLength="24.8" lengthAdjust="spacingAndGlyphs">70.0</text><text x="453.8" y="197.2" textLength="24.8" lengthAdjust="spacingAndGlyphs">60.0</text><text x="453.8" y="230.2" textLength="24.8" lengthAdjust="spacingAndGlyphs">50.0</text><text x="453.8" y="262.3" textLength="24.8" lengthAdjust="spacingAndGlyphs">40.0</text><text x="453.8" y="285.2" textLength="24.8" lengthAdjust="spacingAndGlyphs">30.0</text>
 </g>
 <g style="font:11.4px 'Liberation Sans',sans-serif;fill:#999" text-anchor="middle">
  <text x="501.8" y="307.2" textLength="27.6" lengthAdjust="spacingAndGlyphs">2019</text><text x="583.5" y="307.2" textLength="27.6" lengthAdjust="spacingAndGlyphs">2020</text><text x="665" y="307.2" textLength="27.6" lengthAdjust="spacingAndGlyphs">2021</text><text x="747" y="307.2" textLength="27.6" lengthAdjust="spacingAndGlyphs">2022</text>
 </g>
 <g style="font:12.3px 'Liberation Sans',sans-serif;fill:#1a1a1a">
  <text x="471" y="220.4" textLength="26.3" lengthAdjust="spacingAndGlyphs">52.6</text><text x="570.3" y="226.3" textLength="26.3" lengthAdjust="spacingAndGlyphs">54.4</text><text x="652.2" y="195.2" textLength="26.3" lengthAdjust="spacingAndGlyphs">57.0</text><text x="751.3" y="204" textLength="26.3" lengthAdjust="spacingAndGlyphs">57.8</text>
 </g>
 <text transform="translate(411.5,223.6) rotate(-90)" text-anchor="middle" style="font:12.5px 'Liberation Sans',sans-serif;fill:#333">Valor</text>
</svg>

<!-- bar chart title -->
<div class="abs t16" style="left:389px;top:327px;width:400px;word-spacing:1.4px;">Valor por <b>domínios</b> no Brasil 2022</div>

<!-- bar chart -->
<svg class="abs" style="left:0;top:0" width="800" height="600" viewBox="0 0 800 600">
 <g stroke="#EFEFEF" stroke-width="1"><path d="M455 398.5 H787 M455 439.5 H787 M455 479.5 H787"/></g>
 <rect x="462" y="397" width="50" height="123" fill="#8AA5C5"/>
 <rect x="529" y="423" width="50" height="97" fill="#E5CB85"/>
 <rect x="596" y="411" width="50" height="109" fill="#B8CADE"/>
 <rect x="662" y="401.5" width="50" height="118.5" fill="#E6BC86"/>
 <rect x="729" y="409" width="50" height="111" fill="#DAD899"/>
 <g stroke="#C4C4C4" stroke-width="1" fill="none">
  <path d="M454.5 353.5 V560.5 M787.5 353.5 V560.5 M454.5 373.5 H787.5 M448 520.5 H787.5"/>
 </g>
 <g stroke="#E6E6E6" stroke-width="1"><path d="M449 398.5 H454 M449 439.5 H454 M449 479.5 H454"/><path d="M520.5 521 V525 M587.5 521 V525 M653.5 521 V525 M720.5 521 V525"/></g>
 <text x="620.5" y="368.3" text-anchor="middle" style="font:12.5px 'Liberation Sans',sans-serif;fill:#777">Brasil</text>
 <g style="font:12.5px 'Liberation Sans',sans-serif;fill:#999" text-anchor="end">
  <text x="447.5" y="403.5">60.0</text><text x="447.5" y="444.5">40.0</text><text x="447.5" y="484">20.0</text><text x="447.5" y="516">0.0</text>
 </g>
 <g style="font:12.5px 'Liberation Sans',sans-serif;fill:#333" text-anchor="middle">
  <text x="486.5" y="391.3">60.5</text><text x="553.5" y="417.4">48.0</text><text x="620.5" y="405.6">53.9</text><text x="686.5" y="395.4">58.4</text><text x="753.5" y="403.4">54.6</text>
 </g>
 <g style="font:12.5px 'Liberation Sans',sans-serif;fill:#888" text-anchor="middle">
  <text x="487.3" y="537.6">Acesso,</text><text x="487.3" y="555.6">uso e ..</text>
  <text x="553.5" y="537.6">Eventos es</text><text x="553.5" y="555.6">tressantes</text>
  <text x="620.5" y="537.6">Morbidade</text><text x="620.5" y="555.6">em Saúde</text>
  <text x="687" y="537.6">Relações</text><text x="687" y="555.6">sociais ..</text>
  <text x="753.5" y="537.6">Sociodem..</text>
 </g>
 <text transform="translate(411.5,446) rotate(-90)" text-anchor="middle" style="font:12.5px 'Liberation Sans',sans-serif;fill:#222">Valor do domínio</text>
</svg>

<!-- toolbar -->
<div class="abs" style="left:0;top:573px;width:800px;height:27px;background:#F5F5F5;"></div>
<svg class="abs" style="left:0;top:573px" width="800" height="27" viewBox="0 573 800 27">
 <!-- tableau logo -->
 <g stroke="#333" stroke-width="1.3" fill="none">
  <path d="M41.5 582 V591 M37 586.5 H46"/>
  <path d="M41.5 577.5 V581 M40 579.2 H43 M41.5 592 V595.5 M40 593.8 H43 M33.5 586.5 H37 M35.2 585 V588 M46 586.5 H49.5 M47.8 585 V588" stroke-width="1"/>
  <path d="M36.2 580 V584 M34.2 582 H38.2 M46.8 580 V584 M44.8 582 H48.8 M36.2 589 V593 M34.2 591 H38.2 M46.8 589 V593 M44.8 591 H48.8" stroke-width="1"/>
 </g>
 <text x="55.5" y="591.3" style="font:bold 12.1px 'Liberation Sans',sans-serif;fill:#5a5a5a">View on Tableau Public</text>
 <!-- undo -->
 <g stroke="#C2C2C2" stroke-width="1.25" fill="none">
  <path d="M422 581.75 H431 A6.25 6.25 0 0 1 431 594.25 H421"/>
  <path d="M475 581.75 H465 A6.25 6.25 0 0 0 465 594.25 H475.5"/>
  <path d="M500.5 579.2 V584.4"/>
  <path d="M504 581.75 H510 A6.25 6.25 0 0 1 510 594.25 H501.2"/>
  <path d="M549 583.1 H541 A3.85 3.85 0 0 0 541 590.8 H547.6 A3.85 3.85 0 0 0 551.4 587"/>
 </g>
 <g fill="#C2C2C2">
  <path d="M419.8 581.75 L423.6 579.5 V584 Z"/>
  <path d="M476.6 581.75 L472.8 579.5 V584 Z"/>
  <path d="M501.8 581.75 L505.6 579.5 V584 Z"/>
  <path d="M551.6 583.1 L548.2 581 V585.2 Z"/>
 </g>
 <path d="M566.8 585.4 H573.4 L570.1 589.6 Z" fill="#B5B5B5"/>
 <path d="M595.5 580 V593" stroke="#A0A0A0" stroke-width="1"/>
 <!-- download -->
 <g stroke="#555" stroke-width="1.4" fill="none" stroke-linejoin="round">
  <path d="M626.3 588.9 H623.6 A1 1 0 0 1 622.6 587.9 V581 A1 1 0 0 1 623.6 580 H635.3 A1 1 0 0 1 636.3 581 V587.9 A1 1 0 0 1 635.3 588.9 H632.5"/>
  <path d="M629.4 585.3 V593"/><path d="M627 591.4 H631.8 L629.4 594.4 Z" fill="#555" stroke-width=".6"/>
 </g>
 <path d="M642.4 584.8 H649.6 L646 589.7 Z" fill="#555"/>
 <!-- fullscreen -->
 <g stroke="#555" stroke-width="1.4" fill="none">
  <path d="M673.9 584 V579.7 H678.5 M683.5 579.7 H688.3 V584 M688.3 590 V594.3 H683.5 M678.5 594.3 H673.9 V590"/>
  <rect x="677" y="582.8" width="8.2" height="8.4"/>
 </g>
 <!-- share -->
 <g stroke="#555" stroke-width="1.3" fill="none">
  <circle cx="723.3" cy="581.3" r="2.6"/><circle cx="713.8" cy="587" r="2.6"/><circle cx="723.3" cy="592.7" r="2.6"/>
  <path d="M716 585.7 L721 582.6 M716 588.3 L721 591.4"/>
 </g>
 <text x="733.4" y="591.5" style="font:bold 12.2px 'Liberation Sans',sans-serif;fill:#555">Share</text>
</svg>

</div></body></html>
